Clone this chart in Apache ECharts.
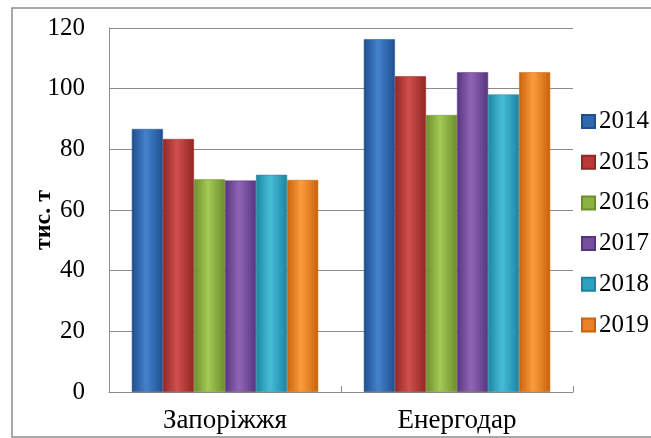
<!DOCTYPE html>
<html>
<head>
<meta charset="utf-8">
<script src="https://cdn.jsdelivr.net/npm/echarts@6/dist/echarts.min.js"></script>
<style>
html,body{margin:0;padding:0;background:#fff;}
#chart{width:651px;height:438px;}
</style>
</head>
<body>
<div id="chart"></div>
<script>
const categories = ['Запоріжжя', 'Енергодар'];
const years = ['2014', '2015', '2016', '2017', '2018', '2019'];
const values2014 = [86.7, 116.3];
const values2015 = [83.4, 104.1];
const values2016 = [70.1, 91.3];
const values2017 = [69.7, 105.4];
const values2018 = [71.6, 98.1];
const values2019 = [69.9, 105.4];
const yTicks = [0, 20, 40, 60, 80, 100, 120];

const seriesValues = [values2014, values2015, values2016, values2017, values2018, values2019];
const palette = [
  ['#1f4f8f', '#4482cc', '#1f4f8f'],
  ['#922624', '#d0504c', '#922624'],
  ['#6a8f2c', '#a6c957', '#6a8f2c'],
  ['#583580', '#9065b6', '#583580'],
  ['#1c84a1', '#48bdd8', '#1c84a1'],
  ['#c9620c', '#fb9d3c', '#c9620c']
];
const legendColors = ['#2f66b0', '#b83a37', '#8bb142', '#74509c', '#2ea1c0', '#ea8224'];

function grad(c) {
  return new echarts.graphic.LinearGradient(0, 0, 1, 0, [
    {offset: 0, color: c[0]},
    {offset: 0.45, color: c[1]},
    {offset: 1, color: c[2]}
  ]);
}

const chart = echarts.init(document.getElementById('chart'), null, {renderer: 'canvas'});
const font = '"Liberation Serif", "DejaVu Serif", serif';

chart.setOption({
  animation: false,
  backgroundColor: '#fff',
  graphic: [
    {type: 'rect', shape: {x: 12, y: 8, width: 650, height: 429},
     style: {fill: 'none', stroke: '#8c8c8c', lineWidth: 1.5}, silent: true},
    {type: 'text', x: 44, y: 220, rotation: Math.PI / 2,
     style: {text: 'тис. т', font: 'bold 24px "Liberation Serif"', fill: '#000',
             textAlign: 'center', textVerticalAlign: 'middle'}}
  ],
  grid: {left: 109, right: 78, top: 28, bottom: 46, containLabel: false},
  legend: {
    orient: 'vertical',
    left: 576,
    top: 104,
    itemWidth: 13,
    itemHeight: 13,
    itemGap: 15.7,
    icon: 'rect',
    textStyle: {fontFamily: font, fontSize: 25, color: '#000', padding: [0, 0, 0, -1]},
    data: years.map((y, i) => ({name: y, itemStyle: {color: legendColors[i]}}))
  },
  xAxis: {
    type: 'category',
    data: categories,
    axisLine: {lineStyle: {color: '#8c8c8c', width: 1}},
    axisTick: {show: true, inside: true, length: 6, lineStyle: {color: '#8c8c8c'}},
    axisLabel: {fontFamily: font, fontSize: 27, color: '#000', margin: 15}
  },
  yAxis: {
    type: 'value',
    min: yTicks[0],
    max: yTicks[yTicks.length - 1],
    interval: 20,
    axisLine: {show: true, lineStyle: {color: '#8c8c8c', width: 1}},
    axisTick: {show: false},
    splitLine: {lineStyle: {color: '#8c8c8c', width: 1}},
    axisLabel: {fontFamily: font, fontSize: 25, color: '#000', margin: 24}
  },
  series: seriesValues.map((vals, i) => ({
    name: years[i],
    type: 'bar',
    data: vals,
    barGap: '0%',
    barCategoryGap: '19.7%',
    itemStyle: {color: grad(palette[i]), borderColor: palette[i][0], borderWidth: 0.5}
  }))
});
</script>
</body>
</html>
